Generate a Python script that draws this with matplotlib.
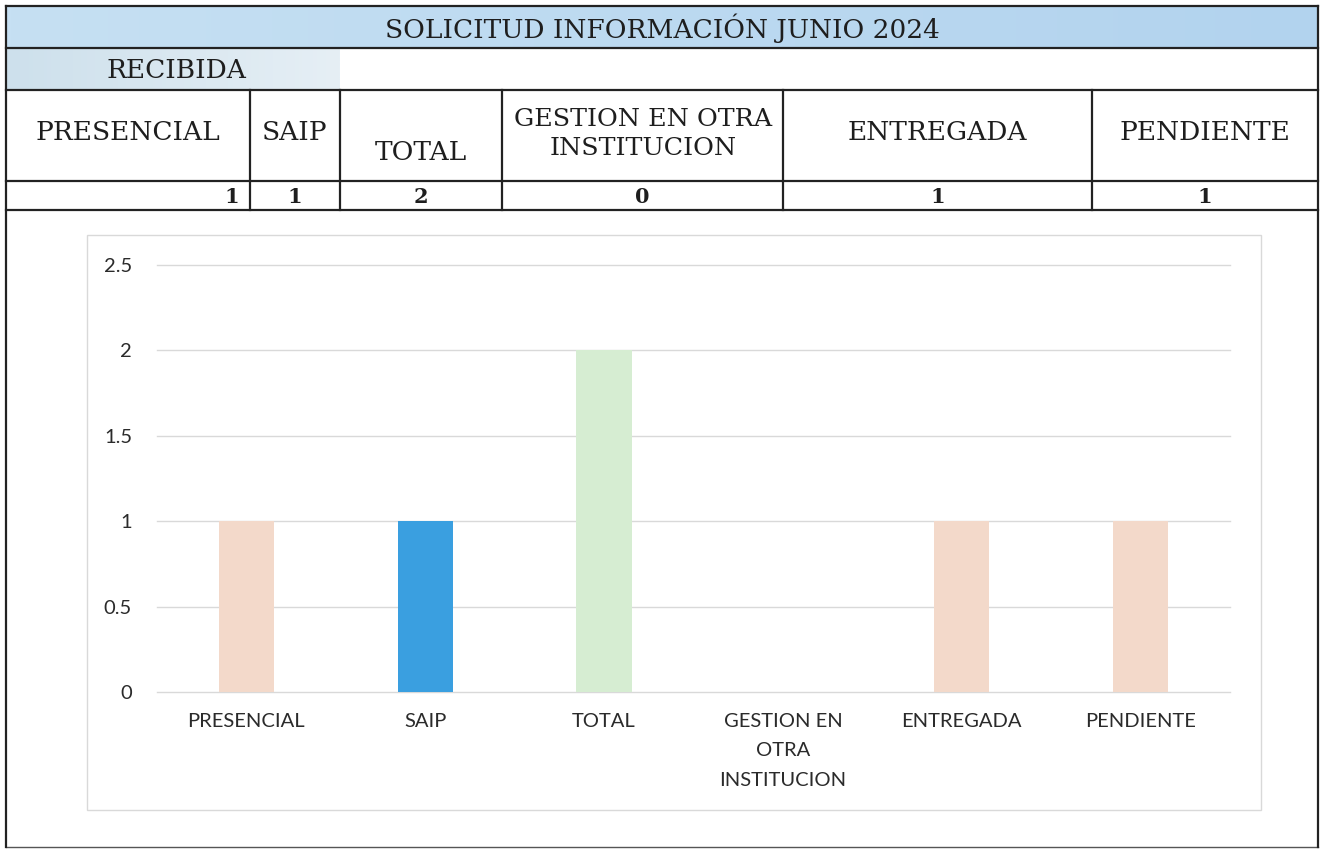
import matplotlib
matplotlib.use("Agg")
import matplotlib.pyplot as plt
from matplotlib.patches import Rectangle
from matplotlib.colors import LinearSegmentedColormap
import numpy as np

# data
title = "SOLICITUD INFORMACIÓN JUNIO 2024"
group_label = "RECIBIDA"
header_labels = ["PRESENCIAL", "SAIP", "TOTAL", "GESTION EN OTRA\nINSTITUCION", "ENTREGADA", "PENDIENTE"]
chart_labels = ["PRESENCIAL", "SAIP", "TOTAL", "GESTION EN\nOTRA\nINSTITUCION", "ENTREGADA", "PENDIENTE"]
values = [1, 1, 2, 0, 1, 1]
y_ticks = [0, 0.5, 1, 1.5, 2, 2.5]
y_tick_labels = ["0", "0.5", "1", "1.5", "2", "2.5"]

bar_colors = ["#f3d9ca", "#3a9fe0", "#d6edd2", "#f3d9ca", "#f3d9ca", "#f3d9ca"]

W, H = 1320, 849
fig = plt.figure(figsize=(W / 100, H / 100), dpi=100)
fig.patch.set_facecolor("white")

# background axes in pixel coordinates for the table
bg = fig.add_axes([0, 0, 1, 1])
bg.set_xlim(0, W)
bg.set_ylim(H, 0)
bg.axis("off")

serif = "DejaVu Serif"
ink = "#1e1e1e"
line_kw = dict(color="#222222", lw=1.6, zorder=3)

# table geometry (pixels)
left, right = 6, 1318
col_edges = [6, 250, 340, 502, 783, 1092, 1318]
row_title = (6, 48)
row_group = (48, 90)
row_head = (90, 181)
row_val = (181, 210)

# title row, light blue
grad = np.linspace(0, 1, 256).reshape(1, -1)
bg.imshow(grad, extent=(left, right, row_title[1], row_title[0]),
          cmap=LinearSegmentedColormap.from_list("t", ["#c6e0f3", "#b2d3ee"]), aspect="auto", zorder=1)
bg.text((left + right) / 2, sum(row_title) / 2 + 1, title, family=serif, fontsize=19,
        ha="center", va="center", color=ink, zorder=4)

# RECIBIDA cell
bg.imshow(grad, extent=(left, col_edges[2], row_group[1], row_group[0]),
          cmap=LinearSegmentedColormap.from_list("g", ["#cde0ec", "#e6eff5"]), aspect="auto", zorder=1)
bg.text(176, sum(row_group) / 2 + 1, group_label, family=serif, fontsize=19,
        ha="center", va="center", color=ink, zorder=4)

# horizontal lines
for y in [row_title[0], row_title[1], row_group[1], row_head[1], row_val[1]]:
    bg.plot([left, right], [y, y], **line_kw)
bg.plot([left, right], [H - 2, H - 2], color="#555555", lw=1.0, zorder=3)
# outer verticals
bg.plot([left, left], [row_title[0], H - 2], **line_kw)
bg.plot([right, right], [row_title[0], H - 2], **line_kw)
# inner verticals of header/value rows
for x in col_edges[1:-1]:
    bg.plot([x, x], [row_head[0], row_val[1]], **line_kw)

# header texts and values
for i, (lab, v) in enumerate(zip(header_labels, values)):
    x0, x1 = col_edges[i], col_edges[i + 1]
    cx = (x0 + x1) / 2
    if lab == "TOTAL":
        bg.text(cx, 152, lab, family=serif, fontsize=19, ha="center", va="center", color=ink, zorder=4)
    elif "\n" in lab:
        bg.text(cx + 1, 134, lab, family=serif, fontsize=18.3, ha="center", va="center", color=ink,
                linespacing=1.33, zorder=4)
    else:
        bg.text(cx, 132, lab, family=serif, fontsize=19, ha="center", va="center", color=ink, zorder=4)
    if i == 0:
        bg.text(x1 - 11, 197, str(v), family=serif, fontsize=15, ha="right", va="center",
                color=ink, fontweight="bold", zorder=4)
    else:
        bg.text(cx, 197, str(v), family=serif, fontsize=15, ha="center", va="center",
                color=ink, fontweight="bold", zorder=4)

# chart frame
bg.add_patch(Rectangle((87, 235), 1261 - 87, 810 - 235, facecolor="white",
                       edgecolor="#d9d9d9", lw=1.0, zorder=2))

# bar chart
px0, px1, py0, py1 = 157, 1230, 265, 692
ax = fig.add_axes([px0 / W, (H - py1) / H, (px1 - px0) / W, (py1 - py0) / H])
ax.set_facecolor("none")
x = np.arange(len(values))
ax.bar(x, values, width=0.31, color=bar_colors, zorder=3)
ax.set_xlim(-0.5, len(values) - 0.5)
ax.set_ylim(0, 2.5)
ax.set_yticks(y_ticks)
ax.set_yticklabels(y_tick_labels)
ax.set_xticks(x)
ax.set_xticklabels(chart_labels, linespacing=1.9)
for s in ax.spines.values():
    s.set_visible(False)
ax.grid(axis="y", color="#d9d9d9", lw=1.0, zorder=0)
for gl in ax.get_ygridlines():
    gl.set_clip_on(False)
ax.tick_params(axis="both", length=0, labelsize=14.5)
ax.tick_params(axis="y", pad=18)
ax.tick_params(axis="x", pad=15)
for t in ax.get_xticklabels() + ax.get_yticklabels():
    t.set_family("Lato")
    t.set_color("#2b2b2b")

fig.savefig("out.png", dpi=100, facecolor="white")
